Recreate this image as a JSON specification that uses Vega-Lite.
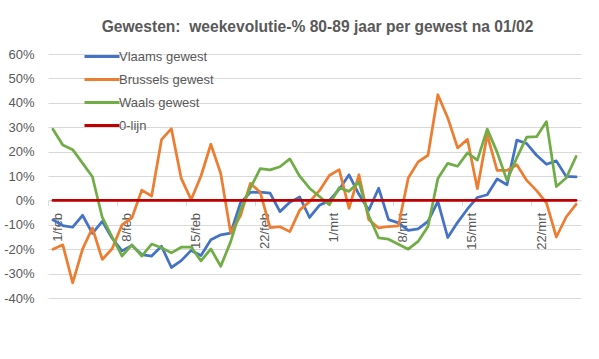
{
  "$schema": "https://vega.github.io/schema/vega-lite/v6.json",
  "width": 533,
  "height": 244,
  "autosize": {"type": "none"},
  "padding": {"left": 48, "top": 54, "right": 18, "bottom": 61},
  "background": "white",
  "title": {
    "text": "Gewesten:\u00a0 weekevolutie-% 80-89 jaar per gewest na 01/02",
    "font": "Liberation Sans",
    "fontSize": 15.6,
    "fontWeight": "bold",
    "color": "#595959",
    "anchor": "middle",
    "dx": 3,
    "offset": 12
  },
  "data": {
    "values": [
      {"d": "1/feb", "Vlaams gewest": -8, "Brussels gewest": -20, "Waals gewest": 29.2, "0-lijn": 0},
      {"d": "2/feb", "Vlaams gewest": -10.3, "Brussels gewest": -18.2, "Waals gewest": 22.7, "0-lijn": 0},
      {"d": "3/feb", "Vlaams gewest": -11, "Brussels gewest": -33.8, "Waals gewest": 20.8, "0-lijn": 0},
      {"d": "4/feb", "Vlaams gewest": -6.1, "Brussels gewest": -20, "Waals gewest": 15.3, "0-lijn": 0},
      {"d": "5/feb", "Vlaams gewest": -13.5, "Brussels gewest": -11.3, "Waals gewest": 9.7, "0-lijn": 0},
      {"d": "6/feb", "Vlaams gewest": -8.6, "Brussels gewest": -24.2, "Waals gewest": -7, "0-lijn": 0},
      {"d": "7/feb", "Vlaams gewest": -15.5, "Brussels gewest": -19.8, "Waals gewest": -15, "0-lijn": 0},
      {"d": "8/feb", "Vlaams gewest": -20.7, "Brussels gewest": -10, "Waals gewest": -22.8, "0-lijn": 0},
      {"d": "9/feb", "Vlaams gewest": -18.5, "Brussels gewest": -7.2, "Waals gewest": -18.2, "0-lijn": 0},
      {"d": "10/feb", "Vlaams gewest": -22.2, "Brussels gewest": 4.2, "Waals gewest": -22.8, "0-lijn": 0},
      {"d": "11/feb", "Vlaams gewest": -22.8, "Brussels gewest": 1.8, "Waals gewest": -17.9, "0-lijn": 0},
      {"d": "12/feb", "Vlaams gewest": -18.8, "Brussels gewest": 24.9, "Waals gewest": -19.4, "0-lijn": 0},
      {"d": "13/feb", "Vlaams gewest": -27.5, "Brussels gewest": 29.4, "Waals gewest": -21.5, "0-lijn": 0},
      {"d": "14/feb", "Vlaams gewest": -24.7, "Brussels gewest": 9, "Waals gewest": -19.2, "0-lijn": 0},
      {"d": "15/feb", "Vlaams gewest": -20.5, "Brussels gewest": 0.3, "Waals gewest": -19.1, "0-lijn": 0},
      {"d": "16/feb", "Vlaams gewest": -22.6, "Brussels gewest": 10, "Waals gewest": -24.8, "0-lijn": 0},
      {"d": "17/feb", "Vlaams gewest": -16.1, "Brussels gewest": 23, "Waals gewest": -19.9, "0-lijn": 0},
      {"d": "18/feb", "Vlaams gewest": -14.1, "Brussels gewest": 11, "Waals gewest": -27, "0-lijn": 0},
      {"d": "19/feb", "Vlaams gewest": -13.4, "Brussels gewest": -13.2, "Waals gewest": -17, "0-lijn": 0},
      {"d": "20/feb", "Vlaams gewest": -1, "Brussels gewest": -6.3, "Waals gewest": -4, "0-lijn": 0},
      {"d": "21/feb", "Vlaams gewest": 3.3, "Brussels gewest": 7, "Waals gewest": 5, "0-lijn": 0},
      {"d": "22/feb", "Vlaams gewest": 3.4, "Brussels gewest": 3.3, "Waals gewest": 13, "0-lijn": 0},
      {"d": "23/feb", "Vlaams gewest": 3, "Brussels gewest": -11.2, "Waals gewest": 12.5, "0-lijn": 0},
      {"d": "24/feb", "Vlaams gewest": -4.6, "Brussels gewest": -10.8, "Waals gewest": 13.8, "0-lijn": 0},
      {"d": "25/feb", "Vlaams gewest": -0.8, "Brussels gewest": -12.8, "Waals gewest": 17, "0-lijn": 0},
      {"d": "26/feb", "Vlaams gewest": 1.4, "Brussels gewest": -4, "Waals gewest": 9.9, "0-lijn": 0},
      {"d": "27/feb", "Vlaams gewest": -7, "Brussels gewest": -0.5, "Waals gewest": 5, "0-lijn": 0},
      {"d": "28/feb", "Vlaams gewest": -2, "Brussels gewest": 4, "Waals gewest": 1.6, "0-lijn": 0},
      {"d": "1/mrt", "Vlaams gewest": 0, "Brussels gewest": 10.2, "Waals gewest": -1.8, "0-lijn": 0},
      {"d": "2/mrt", "Vlaams gewest": 4.5, "Brussels gewest": 12.6, "Waals gewest": 5.2, "0-lijn": 0},
      {"d": "3/mrt", "Vlaams gewest": 10.5, "Brussels gewest": -3.3, "Waals gewest": 3.7, "0-lijn": 0},
      {"d": "4/mrt", "Vlaams gewest": 2.5, "Brussels gewest": 10.5, "Waals gewest": 7.5, "0-lijn": 0},
      {"d": "5/mrt", "Vlaams gewest": -4, "Brussels gewest": -7.9, "Waals gewest": -6.3, "0-lijn": 0},
      {"d": "6/mrt", "Vlaams gewest": 5, "Brussels gewest": -11.3, "Waals gewest": -15.4, "0-lijn": 0},
      {"d": "7/mrt", "Vlaams gewest": -7.9, "Brussels gewest": -10.7, "Waals gewest": -15.9, "0-lijn": 0},
      {"d": "8/mrt", "Vlaams gewest": -9.2, "Brussels gewest": -10.4, "Waals gewest": -18, "0-lijn": 0},
      {"d": "9/mrt", "Vlaams gewest": -12.3, "Brussels gewest": 9.2, "Waals gewest": -20, "0-lijn": 0},
      {"d": "10/mrt", "Vlaams gewest": -11.7, "Brussels gewest": 15.8, "Waals gewest": -16.8, "0-lijn": 0},
      {"d": "11/mrt", "Vlaams gewest": -8.6, "Brussels gewest": 18.5, "Waals gewest": -10.7, "0-lijn": 0},
      {"d": "12/mrt", "Vlaams gewest": -0.4, "Brussels gewest": 43.3, "Waals gewest": 9, "0-lijn": 0},
      {"d": "13/mrt", "Vlaams gewest": -15.2, "Brussels gewest": 33.8, "Waals gewest": 15.2, "0-lijn": 0},
      {"d": "14/mrt", "Vlaams gewest": -9, "Brussels gewest": 21.5, "Waals gewest": 14, "0-lijn": 0},
      {"d": "15/mrt", "Vlaams gewest": -3.5, "Brussels gewest": 25, "Waals gewest": 19.5, "0-lijn": 0},
      {"d": "16/mrt", "Vlaams gewest": 1.2, "Brussels gewest": 4.8, "Waals gewest": 16.5, "0-lijn": 0},
      {"d": "17/mrt", "Vlaams gewest": 2.3, "Brussels gewest": 26.9, "Waals gewest": 29.2, "0-lijn": 0},
      {"d": "18/mrt", "Vlaams gewest": 8.8, "Brussels gewest": 12.3, "Waals gewest": 19.8, "0-lijn": 0},
      {"d": "19/mrt", "Vlaams gewest": 6.4, "Brussels gewest": 12.3, "Waals gewest": 8.2, "0-lijn": 0},
      {"d": "20/mrt", "Vlaams gewest": 24.7, "Brussels gewest": 14.6, "Waals gewest": 17.5, "0-lijn": 0},
      {"d": "21/mrt", "Vlaams gewest": 23.3, "Brussels gewest": 8.2, "Waals gewest": 25.9, "0-lijn": 0},
      {"d": "22/mrt", "Vlaams gewest": 18.5, "Brussels gewest": 4, "Waals gewest": 26.1, "0-lijn": 0},
      {"d": "23/mrt", "Vlaams gewest": 14.8, "Brussels gewest": -1, "Waals gewest": 32.3, "0-lijn": 0},
      {"d": "24/mrt", "Vlaams gewest": 16.2, "Brussels gewest": -15, "Waals gewest": 5.7, "0-lijn": 0},
      {"d": "25/mrt", "Vlaams gewest": 9.8, "Brussels gewest": -6.8, "Waals gewest": 9.2, "0-lijn": 0},
      {"d": "26/mrt", "Vlaams gewest": 9.6, "Brussels gewest": -1.6, "Waals gewest": 18, "0-lijn": 0}
    ]
  },
  "transform": [
    {"fold": ["Vlaams gewest", "Brussels gewest", "Waals gewest", "0-lijn"], "as": ["reeks", "waarde"]}
  ],
  "mark": {"type": "line", "strokeWidth": 2.75, "strokeJoin": "round", "strokeCap": "round"},
  "encoding": {
    "x": {
      "field": "d",
      "type": "ordinal",
      "sort": null,
      "scale": {"type": "band", "paddingInner": 0, "paddingOuter": 0},
      "axis": {
        "title": null,
        "values": ["1/feb", "8/feb", "15/feb", "22/feb", "1/mrt", "8/mrt", "15/mrt", "22/mrt"],
        "offset": -97.6,
        "bandPosition": 0,
        "labelOffset": 5,
        "labelAngle": 270,
        "labelAlign": "right",
        "labelBaseline": "middle",
        "labelPadding": 7,
        "labelFont": "Liberation Sans",
        "labelFontSize": 13,
        "labelColor": "#595959",
        "tickSize": 5,
        "tickColor": "#d9d9d9",
        "domainColor": "#d9d9d9",
        "grid": false
      }
    },
    "y": {
      "field": "waarde",
      "type": "quantitative",
      "scale": {"domain": [-40, 60], "nice": false, "zero": false},
      "axis": {
        "title": null,
        "values": [-40, -30, -20, -10, 0, 10, 20, 30, 40, 50, 60],
        "labelExpr": "datum.value + '%'",
        "labelFont": "Liberation Sans",
        "labelFontSize": 13,
        "labelColor": "#595959",
        "labelPadding": 14,
        "ticks": false,
        "domain": false,
        "grid": true,
        "gridColor": "#d9d9d9",
        "gridWidth": 1
      }
    },
    "color": {
      "field": "reeks",
      "type": "nominal",
      "scale": {
        "domain": ["Vlaams gewest", "Brussels gewest", "Waals gewest", "0-lijn"],
        "range": ["#4472C4", "#ED7D31", "#70AD47", "#C00000"]
      },
      "legend": {
        "title": null,
        "orient": "none",
        "legendX": 46.5,
        "legendY": -5,
        "symbolType": "M-2.917,0L2.917,0",
        "symbolSize": 144,
        "symbolStrokeWidth": 3,
        "labelFont": "Liberation Sans",
        "labelFontSize": 13,
        "labelColor": "#595959",
        "rowPadding": 8,
        "labelOffset": 9.5
      }
    }
  },
  "config": {
    "view": {"stroke": null}
  }
}
